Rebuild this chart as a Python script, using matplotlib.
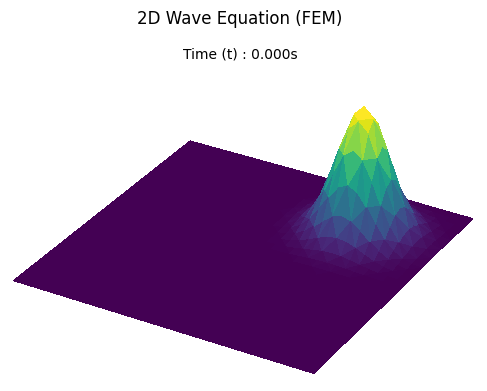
import numpy as np
import matplotlib
matplotlib.use('Agg')
import matplotlib.pyplot as plt

title = '2D Wave Equation (FEM)'
time_label = 'Time (t) : 0.000s'

# mesh nodes along each side of the unit square
node_count = 33
peak_node = 24

# displacement, one quarter of the pulse starting at
# its peak node, zero outside
pulse_quarter = np.array([
    [1.00, .925, .732, .496, .287, .142, .060, .022, .007],
    [.925, .856, .677, .458, .266, .132, .056, .020, .006],
    [.732, .677, .536, .362, .210, .104, .044, .016, .005],
    [.496, .458, .362, .246, .142, .071, .030, .011, .003],
    [.287, .266, .210, .142, .082, .041, .017, .006, .002],
    [.142, .132, .104, .071, .041, .020, .009, .003, .001],
    [.060, .056, .044, .030, .017, .009, .004, .001, .000],
    [.022, .020, .016, .011, .006, .003, .001, .000, .000],
    [.007, .006, .005, .003, .002, .001, .000, .000, .000],
])

xs = np.linspace(0, 1, node_count)
X, Y = np.meshgrid(xs, xs)
Z = np.zeros_like(X)
reach = pulse_quarter.shape[0]
for i in range(-reach + 1, reach):
    for j in range(-reach + 1, reach):
        Z[peak_node + i, peak_node + j] = pulse_quarter[abs(i), abs(j)]

fig = plt.figure(figsize=(4.87, 3.91), dpi=100)
ax = fig.add_axes([-0.189, -0.053, 1.365, 1.365], projection='3d')
ax.plot_trisurf(X.ravel(), Y.ravel(), Z.ravel(), cmap='viridis', linewidth=0, antialiased=False)
ax.view_init(elev=28, azim=-60)
ax.set_xlim(0, 1)
ax.set_ylim(0, 1)
ax.set_zlim(0, 1.75)
ax.set_axis_off()

fig.text(240 / 487, 1 - 19 / 391, title, ha='center', va='center', fontsize=12)
fig.text(240 / 487, 1 - 54 / 391, time_label, ha='center', va='center', fontsize=10)

fig.savefig('out.png', dpi=100)
